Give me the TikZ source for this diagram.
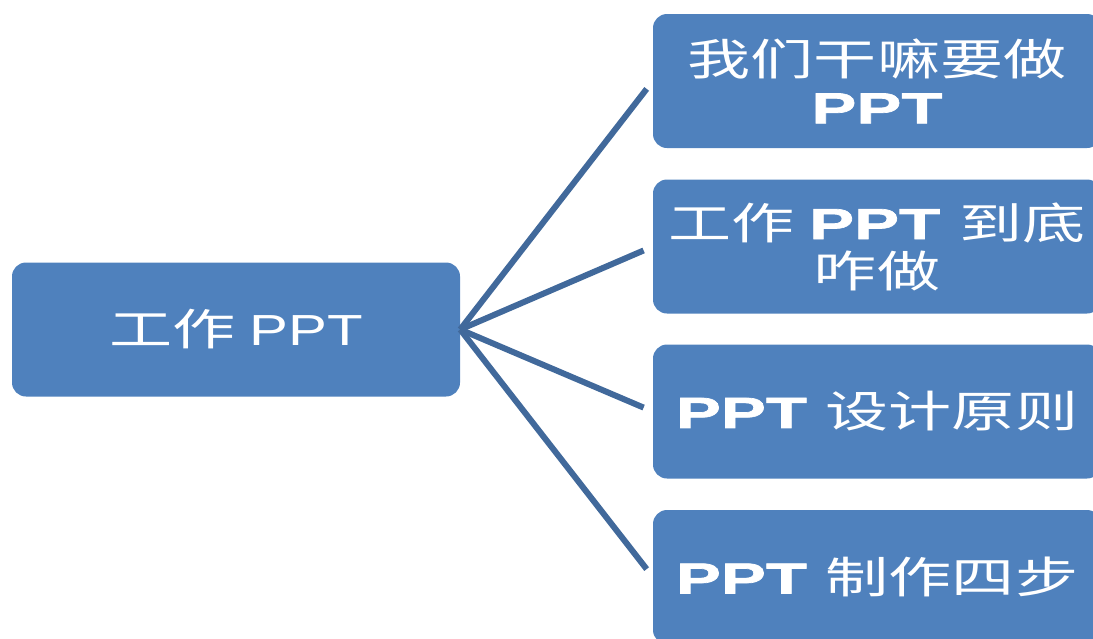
\documentclass[tikz,border=0pt]{standalone}
\usepackage{fontspec}
\usetikzlibrary{positioning}
\newfontfamily\cjk[FakeStretch=1.45]{Noto Sans CJK SC}
\newfontfamily\pptreg[FakeStretch=1.34]{Liberation Sans}
\newfontfamily\pptbold[FakeStretch=1.55,FakeBold=1.6]{Liberation Sans Bold}
\definecolor{boxblue}{HTML}{4F81BD}
\definecolor{lineblue}{HTML}{41699B}
\tikzstyle{topic} = [rectangle, fill=boxblue, text=white, align=center,
    minimum width=448pt, minimum height=134pt, rounded corners=14pt, inner sep=0pt,
    font=\fontsize{43.5}{48}\selectfont]
\tikzstyle{link} = [draw=lineblue, line width=6pt, shorten >=10pt]

\begin{document}
\begin{tikzpicture}[x=1pt,y=-1pt]
  \useasboundingbox (0,0) rectangle (1093,638);

  \node[topic] (Work) at (236,329.5) {\cjk 工作 \pptreg PPT};
  \node[topic] (Why)  at (877,81)    {\cjk 我们干嘛要做\\\pptbold PPT};
  \node[topic] (How)  at (877,246.5) {\cjk 工作 \pptbold PPT \cjk 到底\\\cjk 咋做};
  \node[topic] (Rule) at (877,411.5) {\pptbold PPT \cjk 设计原则};
  \node[topic] (Step) at (877,577)   {\pptbold PPT \cjk 制作四步};

  \path[link] (Work.east) edge (Why.west)
                          edge (How.west)
                          edge (Rule.west)
                          edge (Step.west);
\end{tikzpicture}
\end{document}
